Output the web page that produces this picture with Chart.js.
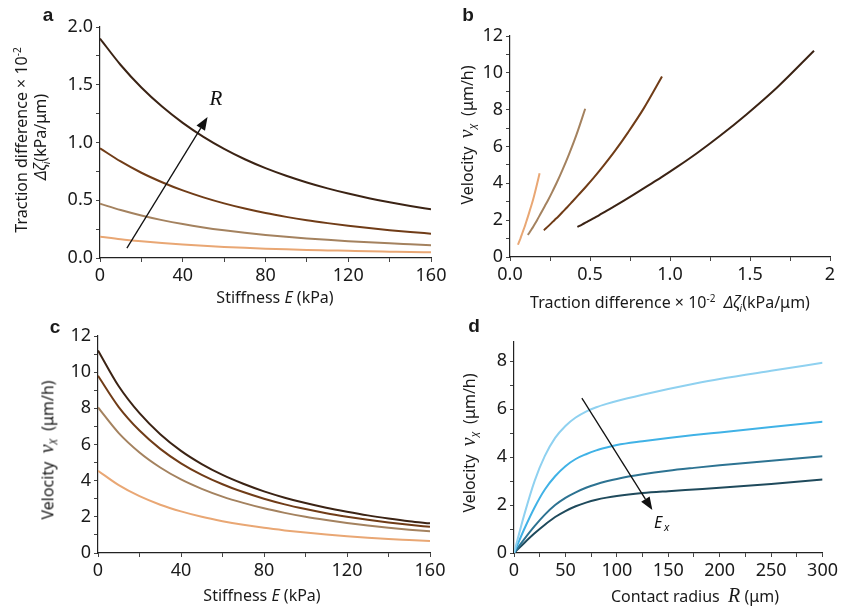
<!DOCTYPE html>
<html>
<head>
<meta charset="utf-8">
<script src="https://cdn.jsdelivr.net/npm/chart.js@4.4.1/dist/chart.umd.min.js"></script>
<style>
  body { margin:0; background:#fff; width:841px; height:610px; position:relative; overflow:hidden;
         font-family:"Noto Sans", sans-serif; color:#1a1a1a; }
  canvas { position:absolute; left:0; top:0; }
  .lbl { position:absolute; white-space:nowrap; font-size:16px; transform:translate(-50%,-50%); }
  .rot { transform:translate(-50%,-50%) rotate(-90deg); }
  .tag { position:absolute; font:bold 19px "Liberation Sans", sans-serif; transform:translate(-50%,-50%); }
  .m { font-family:"Liberation Serif", serif; font-style:italic; font-size:20px; }
  sub, sup { font-size:10px; }
</style>
</head>
<body>
<canvas id="chartA" width="841" height="610"></canvas>
<canvas id="chartB" width="841" height="610"></canvas>
<canvas id="chartC" width="841" height="610"></canvas>
<canvas id="chartD" width="841" height="610"></canvas>

<div class="tag" style="left:48px;top:15px">a</div>
<div class="tag" style="left:468px;top:15px">b</div>
<div class="tag" style="left:55px;top:327px">c</div>
<div class="tag" style="left:474px;top:326px">d</div>

<div class="lbl rot" style="left:21px;top:140px">Traction difference × 10<sup>-2</sup></div>
<div class="lbl rot" style="left:41px;top:137px"><i>Δζ</i><sub><i>i</i></sub>(kPa/μm)</div>
<div class="lbl" style="left:275px;top:297px">Stiffness <i>E</i>&nbsp;(kPa)</div>

<div class="lbl rot" style="left:468px;top:135px">Velocity&nbsp;&nbsp;<span class="m">v</span><sub><i>X</i></sub>&nbsp;&nbsp;(μm/h)</div>
<div class="lbl" style="left:670px;top:303px">Traction difference × 10<sup>-2</sup>&nbsp;&nbsp;<i>Δζ</i><sub><i>i</i></sub>(kPa/μm)</div>

<div class="lbl rot" style="left:48px;top:450px">Velocity&nbsp;&nbsp;<span class="m">v</span><sub><i>X</i></sub>&nbsp;&nbsp;(μm/h)</div>
<div class="lbl" style="left:262px;top:595px">Stiffness <i>E</i>&nbsp;(kPa)</div>

<div class="lbl rot" style="left:470px;top:443px">Velocity&nbsp;&nbsp;<span class="m">v</span><sub><i>X</i></sub>&nbsp;&nbsp;(μm/h)</div>
<div class="lbl" style="left:695px;top:595px">Contact radius&nbsp;&nbsp;<span class="m">R</span>&nbsp;(μm)</div>

<script>
// stiffness E (kPa), shared by panels a, b, c
const stiffness = [0, 10, 20, 30, 40, 50, 60, 70, 80, 90, 100, 110, 120, 130, 140, 150, 160];

// panel a: traction difference (x10^-2 kPa/um), smallest R -> largest R
const tractionR1 = [0.185, 0.163, 0.145, 0.129, 0.116, 0.105, 0.096, 0.088, 0.081, 0.075, 0.070, 0.066, 0.062, 0.058, 0.055, 0.052, 0.050];
const tractionR2 = [0.47, 0.415, 0.368, 0.328, 0.294, 0.265, 0.240, 0.218, 0.199, 0.183, 0.169, 0.157, 0.146, 0.136, 0.127, 0.119, 0.111];
const tractionR3 = [0.95, 0.836, 0.738, 0.656, 0.585, 0.525, 0.473, 0.428, 0.389, 0.356, 0.327, 0.302, 0.279, 0.259, 0.241, 0.225, 0.211];
const tractionR4 = [1.90, 1.671, 1.476, 1.311, 1.170, 1.049, 0.945, 0.855, 0.778, 0.712, 0.654, 0.603, 0.558, 0.518, 0.482, 0.450, 0.421];

// panel c: velocity (um/h)
const velocityR1 = [4.55, 3.75, 3.14, 2.67, 2.30, 2.00, 1.76, 1.56, 1.39, 1.25, 1.13, 1.02, 0.93, 0.85, 0.78, 0.72, 0.66];
const velocityR2 = [8.05, 6.63, 5.56, 4.73, 4.07, 3.55, 3.12, 2.77, 2.47, 2.22, 2.00, 1.82, 1.66, 1.52, 1.40, 1.29, 1.20];
const velocityR3 = [9.8, 8.07, 6.77, 5.76, 4.96, 4.32, 3.80, 3.37, 3.00, 2.69, 2.43, 2.20, 2.01, 1.84, 1.69, 1.56, 1.45];
const velocityR4 = [11.2, 9.22, 7.73, 6.57, 5.65, 4.92, 4.32, 3.83, 3.41, 3.06, 2.76, 2.50, 2.28, 2.08, 1.91, 1.76, 1.64];

// panel d: contact radius R (um) and velocity for increasing E_x
const radius = [0, 10, 20, 30, 40, 50, 60, 70, 80, 90, 100, 125, 150, 175, 200, 250, 300];
const velocityE1 = [0, 1.6, 3.0, 4.05, 4.8, 5.3, 5.65, 5.9, 6.08, 6.22, 6.34, 6.6, 6.84, 7.06, 7.26, 7.6, 7.93];
const velocityE2 = [0, 1.0, 1.9, 2.65, 3.2, 3.62, 3.92, 4.12, 4.28, 4.4, 4.5, 4.66, 4.8, 4.92, 5.03, 5.25, 5.47];
const velocityE3 = [0, 0.58, 1.12, 1.6, 2.0, 2.3, 2.53, 2.72, 2.87, 2.99, 3.09, 3.28, 3.43, 3.55, 3.66, 3.85, 4.04];
const velocityE4 = [0, 0.42, 0.82, 1.18, 1.5, 1.75, 1.95, 2.1, 2.22, 2.31, 2.38, 2.5, 2.58, 2.65, 2.72, 2.88, 3.07];

const browns = ['#e9a774', '#a4825f', '#703c17', '#3b2314'];
const blues  = ['#8fd1f0', '#40b2e6', '#2d7392', '#1f4a5c'];

const W = 841, H = 610, YW = 40, XH = 30;

const every = (step, fmt) => v => {
  const k = v / step;
  return Math.abs(k - Math.round(k)) < 1e-6 ? fmt(v) : '';
};

const axis = (min, max, step, label) => ({
  type: 'linear', min, max,
  ticks: { stepSize: step, autoSkip: false, includeBounds: false, maxRotation: 0, padding: 3,
           color: '#1a1a1a', font: { family: 'Noto Sans', size: 18 }, callback: label },
  grid: { drawOnChartArea: false, drawTicks: true, tickLength: 4, tickColor: '#444', lineWidth: 1 },
  border: { display: true, color: '#222', width: 1.2 }
});

const line = (xs, ys, color) => ({
  data: xs.map((x, i) => ({ x, y: ys[i] })),
  showLine: true, borderColor: color, borderWidth: 2, pointRadius: 0,
  cubicInterpolationMode: 'monotone'
});

const arrow = (from, to, draw) => ({
  id: 'arrow',
  afterDatasetsDraw(chart) {
    const { ctx, scales: { x, y } } = chart;
    const x0 = x.getPixelForValue(from[0]), y0 = y.getPixelForValue(from[1]);
    const x1 = x.getPixelForValue(to[0]),   y1 = y.getPixelForValue(to[1]);
    const a = Math.atan2(y1 - y0, x1 - x0), hl = 13, hw = 5;
    ctx.save();
    ctx.strokeStyle = ctx.fillStyle = '#111';
    ctx.lineWidth = 1.3;
    ctx.beginPath();
    ctx.moveTo(x0, y0);
    ctx.lineTo(x1 - hl * Math.cos(a), y1 - hl * Math.sin(a));
    ctx.stroke();
    ctx.beginPath();
    ctx.moveTo(x1, y1);
    ctx.lineTo(x1 - hl * Math.cos(a) + hw * Math.sin(a), y1 - hl * Math.sin(a) - hw * Math.cos(a));
    ctx.lineTo(x1 - hl * Math.cos(a) - hw * Math.sin(a), y1 - hl * Math.sin(a) + hw * Math.cos(a));
    ctx.closePath();
    ctx.fill();
    draw(ctx, x, y);
    ctx.restore();
  }
});

const createChart = (id, box, datasets, xAxis, yAxis, extra) => {
  new Chart(document.getElementById(id), {
    type: 'scatter',
    data: { datasets },
    options: {
      responsive: false, animation: false, events: [],
      layout: { padding: { left: box.l - YW, top: box.t, right: W - box.r, bottom: H - box.b - XH } },
      plugins: { legend: { display: false }, tooltip: { enabled: false } },
      scales: {
        x: { ...xAxis, afterFit: s => { s.height = XH; } },
        y: { ...yAxis, afterFit: s => { s.width = YW; } }
      }
    },
    plugins: extra ? [extra] : []
  });
};

/* a: traction difference vs stiffness */
createChart('chartA', { l: 100, t: 27, r: 431, b: 258 },
  [tractionR1, tractionR2, tractionR3, tractionR4].map((v, i) => line(stiffness, v, browns[i])),
  axis(0, 160, 20, every(40, v => v)),
  axis(0, 2, 0.25, every(0.5, v => v.toFixed(1))),
  arrow([13, 0.085], [52, 1.22], (ctx, x, y) => {
    ctx.font = 'italic 21px "Liberation Serif"';
    ctx.textAlign = 'center'; ctx.textBaseline = 'middle';
    ctx.fillText('R', x.getPixelForValue(56), y.getPixelForValue(1.37));
  }));

/* b: velocity vs traction difference (same E points as a and c) */
createChart('chartB', { l: 510, t: 36, r: 830, b: 257 },
  [[tractionR1, velocityR1], [tractionR2, velocityR2], [tractionR3, velocityR3], [tractionR4, velocityR4]]
    .map(([t, v], i) => line(t, v, browns[i])),
  axis(0, 2, 0.25, every(0.5, v => v === 2 ? '2' : v.toFixed(1))),
  axis(0, 12, 1, every(2, v => v)));

/* c: velocity vs stiffness */
createChart('chartC', { l: 98, t: 336, r: 430, b: 553 },
  [velocityR1, velocityR2, velocityR3, velocityR4].map((v, i) => line(stiffness, v, browns[i])),
  axis(0, 160, 20, every(40, v => v)),
  axis(0, 12, 1, every(2, v => v)));

/* d: velocity vs contact radius */
createChart('chartD', { l: 514, t: 342, r: 824, b: 553 },
  [velocityE1, velocityE2, velocityE3, velocityE4].map((v, i) => line(radius, v, blues[i])),
  axis(0, 300, 25, every(50, v => v)),
  axis(0, 8.8, 1, every(2, v => v)),
  arrow([66, 6.46], [134.5, 1.79], (ctx, x, y) => {
    const px = x.getPixelForValue(136), py = y.getPixelForValue(1.25);
    ctx.textBaseline = 'middle';
    ctx.font = 'italic 16px "Noto Sans"';
    ctx.fillText('E', px, py);
    ctx.font = 'italic 11px "Noto Sans"';
    ctx.fillText('x', px + 10, py + 5);
  }));
</script>
</body>
</html>
